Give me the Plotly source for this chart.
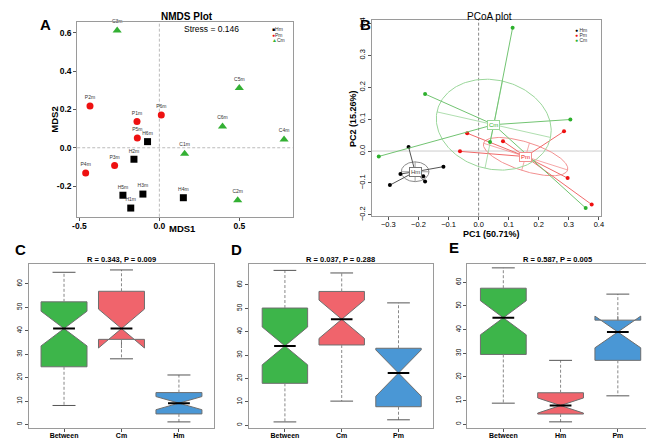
import numpy as np
import plotly.graph_objects as go

FONT = "Liberation Sans, Arial, sans-serif"
W, H = 654, 441

# ---------------- Panel A: NMDS data ----------------
nmds_H_lab = ["H6m", "H2m", "H5m", "H3m", "H4m", "H1m"]
nmds_H_x = [-0.074, -0.159, -0.228, -0.103, 0.150, -0.179]
nmds_H_y = [0.032, -0.060, -0.248, -0.242, -0.261, -0.315]
nmds_P_lab = ["P2m", "P1m", "P6m", "P5m", "P3m", "P4m"]
nmds_P_x = [-0.434, -0.140, 0.012, -0.138, -0.280, -0.461]
nmds_P_y = [0.218, 0.137, 0.171, 0.051, -0.093, -0.132]
nmds_C_lab = ["C3m", "C5m", "C6m", "C4m", "C1m", "C2m"]
nmds_C_x = [-0.264, 0.500, 0.395, 0.780, 0.158, 0.490]
nmds_C_y = [0.613, 0.312, 0.111, 0.043, -0.031, -0.274]
stress_text = "Stress = 0.146"

# ---------------- Panel B: PCoA data ----------------
pcoa_H_x = [-0.233, -0.117, -0.260, -0.184, -0.178, -0.295]
pcoa_H_y = [0.013, -0.049, -0.072, -0.079, -0.096, -0.107]
pcoa_P_x = [-0.038, -0.062, 0.081, 0.284, 0.296, 0.376]
pcoa_P_y = [0.056, -0.001, 0.031, 0.062, -0.085, -0.168]
pcoa_C_x = [0.113, -0.178, 0.305, 0.038, -0.332, 0.356]
pcoa_C_y = [0.387, 0.179, 0.099, 0.028, -0.017, -0.179]
# ellipse semi-axes and rotation (degrees) per group: Hm, Pm, Cm
ell_a = [0.046, 0.146, 0.193]
ell_b = [0.031, 0.045, 0.140]
ell_angle = [0.0, -16.7, -12.0]
pc1_label = "PC1 (50.71%)"
pc2_label = "PC2 (15.26%)"

# ---------------- Panels C, D, E: ANOSIM boxplots ----------------
C_cats = ["Between", "Cm", "Hm"]
C_low = [8.1, 28.0, 1.1]
C_q1 = [24.6, 36.3, 4.5]
C_med = [40.9, 40.9, 9.1]
C_q3 = [52.3, 56.8, 13.6]
C_high = [64.9, 65.9, 21.1]
C_notch = [7.4, 8.3, 2.8]
C_title = "R = 0.343, P = 0.009"

D_cats = ["Between", "Cm", "Pm"]
D_low = [1.4, 10.3, 2.3]
D_q1 = [17.9, 34.3, 7.9]
D_med = [33.9, 45.3, 22.3]
D_q3 = [50.1, 57.2, 32.9]
D_high = [66.2, 65.1, 52.3]
D_notch = [8.1, 8.2, 9.9]
D_title = "R = 0.037, P = 0.288"

E_cats = ["Between", "Hm", "Pm"]
E_low = [8.9, 1.0, 12.0]
E_q1 = [29.5, 4.3, 27.0]
E_med = [45.0, 7.9, 39.0]
E_q3 = [57.5, 13.3, 44.0]
E_high = [66.1, 27.0, 55.0]
E_notch = [7.2, 3.2, 6.7]
E_title = "R = 0.587, P = 0.005"

COL_GREEN_BOX = "#3DB54A"
COL_RED_BOX = "#F0646C"
COL_BLUE_BOX = "#4A97D5"
C_fill = [COL_GREEN_BOX, COL_RED_BOX, COL_BLUE_BOX]
D_fill = [COL_GREEN_BOX, COL_RED_BOX, COL_BLUE_BOX]
E_fill = [COL_GREEN_BOX, COL_RED_BOX, COL_BLUE_BOX]


def px_x(p):
    return p / W


def px_y(p):
    return 1 - p / H


fig = go.Figure()

# ---------- Panel A ----------
for labs, xs, ys, sym, col, sz in [
    (nmds_H_lab, nmds_H_x, nmds_H_y, "square", "black", 7),
    (nmds_P_lab, nmds_P_x, nmds_P_y, "circle", "#EE1111", 7),
    (nmds_C_lab, nmds_C_x, nmds_C_y, "triangle-up", "#33B033", 8),
]:
    fig.add_trace(go.Scatter(
        x=xs, y=ys, mode="markers+text", text=labs, textposition="top center",
        textfont=dict(size=5, color="#333333", family=FONT),
        marker=dict(symbol=sym, color=col, size=sz, line=dict(width=0)),
        xaxis="x", yaxis="y", showlegend=False, cliponaxis=False))

# ---------- Panel B ----------
groups = [
    ("Hm", pcoa_H_x, pcoa_H_y, "black", "#555555", "#8A8A8A"),
    ("Pm", pcoa_P_x, pcoa_P_y, "#EE1111", "#F06A6A", "#F29090"),
    ("Cm", pcoa_C_x, pcoa_C_y, "#2DB02D", "#72C472", "#9AD69A"),
]
centroids = []
for gi, (name, xs, ys, pcol, scol, ecol) in enumerate(groups):
    cx, cy = float(np.mean(xs)), float(np.mean(ys))
    centroids.append((cx, cy))
    th = np.deg2rad(ell_angle[gi])
    a, b = ell_a[gi], ell_b[gi]
    t = np.linspace(0, 2 * np.pi, 200)
    ex = cx + a * np.cos(t) * np.cos(th) - b * np.sin(t) * np.sin(th)
    ey = cy + a * np.cos(t) * np.sin(th) + b * np.sin(t) * np.cos(th)
    fig.add_trace(go.Scatter(x=ex, y=ey, mode="lines", line=dict(color=ecol, width=1),
                             xaxis="x2", yaxis="y2", showlegend=False, hoverinfo="skip"))
    u = (np.cos(th), np.sin(th))
    v = (-np.sin(th), np.cos(th))
    axx = [cx - a * u[0], cx + a * u[0], None, cx - b * v[0], cx + b * v[0]]
    axy = [cy - a * u[1], cy + a * u[1], None, cy - b * v[1], cy + b * v[1]]
    fig.add_trace(go.Scatter(x=axx, y=axy, mode="lines", line=dict(color=ecol, width=0.8),
                             xaxis="x2", yaxis="y2", showlegend=False, hoverinfo="skip"))
    sx, sy = [], []
    for px_, py_ in zip(xs, ys):
        sx += [cx, px_, None]
        sy += [cy, py_, None]
    fig.add_trace(go.Scatter(x=sx, y=sy, mode="lines", line=dict(color=scol, width=1),
                             xaxis="x2", yaxis="y2", showlegend=False, hoverinfo="skip"))
    fig.add_trace(go.Scatter(x=xs, y=ys, mode="markers", marker=dict(color=pcol, size=4),
                             xaxis="x2", yaxis="y2", showlegend=False))

annotations = []
for (name, xs, ys, pcol, scol, ecol), (cx, cy) in zip(groups, centroids):
    annotations.append(dict(
        x=cx, y=cy, xref="x2", yref="y2", text=name, showarrow=False,
        font=dict(size=6, color=pcol if name != "Hm" else "#444444", family=FONT),
        bgcolor="white", bordercolor=ecol if name != "Hm" else "#777777",
        borderwidth=1, borderpad=1))


# ---------- Box panels ----------
def add_box_panel(xa, ya, cats, low, q1, med, q3, high, notch, fills):
    n = len(cats)
    pos = list(range(1, n + 1))
    for i in range(n):
        p = pos[i]
        fig.add_trace(go.Scatter(
            x=[p, p, None, p, p], y=[q3[i], high[i], None, q1[i], low[i]],
            mode="lines", line=dict(color="#888888", width=1, dash="3px,2px"),
            xaxis=xa, yaxis=ya, showlegend=False, hoverinfo="skip"))
        fig.add_trace(go.Scatter(
            x=[p - 0.2, p + 0.2, None, p - 0.2, p + 0.2],
            y=[high[i], high[i], None, low[i], low[i]],
            mode="lines", line=dict(color="#555555", width=1),
            xaxis=xa, yaxis=ya, showlegend=False, hoverinfo="skip"))
        fig.add_trace(go.Box(
            x=[p], q1=[q1[i]], median=[med[i]], q3=[q3[i]],
            lowerfence=[q1[i]], upperfence=[q3[i]], notchspan=[notch[i]],
            notched=True, notchwidth=0.5, width=0.8, whiskerwidth=0,
            fillcolor=fills[i], line=dict(color="#6E6E6E", width=1),
            boxpoints=False, xaxis=xa, yaxis=ya, showlegend=False, hoverinfo="skip"))
        fig.add_trace(go.Scatter(
            x=[p - 0.19, p + 0.19], y=[med[i], med[i]], mode="lines",
            line=dict(color="black", width=2),
            xaxis=xa, yaxis=ya, showlegend=False, hoverinfo="skip"))


add_box_panel("x3", "y3", C_cats, C_low, C_q1, C_med, C_q3, C_high, C_notch, C_fill)
add_box_panel("x4", "y4", D_cats, D_low, D_q1, D_med, D_q3, D_high, D_notch, D_fill)
add_box_panel("x5", "y5", E_cats, E_low, E_q1, E_med, E_q3, E_high, E_notch, E_fill)

# ---------- Layout ----------
frame = dict(showline=True, mirror=True, linecolor="#9A9A9A", linewidth=1,
             showgrid=False, zeroline=False, ticks="outside", ticklen=3,
             tickcolor="#555555", tickwidth=1)

layout = dict(
    width=W, height=H, margin=dict(l=0, r=0, t=0, b=0),
    paper_bgcolor="white", plot_bgcolor="white",
    font=dict(family=FONT, color="black"),
    showlegend=False,
)

# A
layout["xaxis"] = dict(frame, domain=[px_x(65), px_x(283)], range=[-0.514, 0.833], anchor="y",
                       tickvals=[-0.5, 0.0, 0.5],
                       ticktext=["<b>-0.5</b>", "<b>0.0</b>", "<b>0.5</b>"],
                       tickfont=dict(size=8.5, family=FONT), ticklabelstandoff=-2)
layout["yaxis"] = dict(frame, domain=[px_y(210), px_y(12)], range=[-0.36, 0.658], anchor="x",
                       tickvals=[-0.2, 0.0, 0.2, 0.4, 0.6],
                       ticktext=["<b>-0.2</b>", "<b>0.0</b>", "<b>0.2</b>", "<b>0.4</b>", "<b>0.6</b>"],
                       tickfont=dict(size=8.5, family=FONT))
# B
layout["xaxis2"] = dict(frame, domain=[px_x(363.3), px_x(595.3)], range=[-0.355, 0.407], anchor="y2",
                        tickvals=[-0.3, -0.2, -0.1, 0.0, 0.1, 0.2, 0.3, 0.4], tickformat=".1f",
                        tickfont=dict(size=7.5, family=FONT), ticklabelstandoff=-2)
layout["yaxis2"] = dict(frame, domain=[px_y(209), px_y(10)], range=[-0.203, 0.412], anchor="x2",
                        tickvals=[-0.2, -0.1, 0.0, 0.1, 0.2, 0.3, 0.4], tickformat=".1f",
                        tickangle=-90, tickfont=dict(size=7.5, family=FONT))
# C, D, E
box_y_ticks = [0, 10, 20, 30, 40, 50, 60]
for k, (xd, yr, xr, cats) in zip(
        [3, 4, 5],
        [((16, 203.3), (-1.4, 68.6), (0.387, 3.607), C_cats),
         ((239, 425.7), (-1.1, 69.1), (0.369, 3.616), D_cats),
         ((460, 641.3), (-1.5, 67.9), (0.372, 3.5), E_cats)]):
    layout[f"xaxis{k}"] = dict(frame, domain=[px_x(xd[0]), px_x(xd[1])], range=list(xr),
                               anchor=f"y{k}", tickvals=[1, 2, 3],
                               ticktext=[f"<b>{c}</b>" for c in cats],
                               tickfont=dict(size=7, family=FONT), ticklabelstandoff=-2)
    layout[f"yaxis{k}"] = dict(frame, domain=[px_y(424.5), px_y(257.7)], range=list(yr),
                               anchor=f"x{k}", tickvals=box_y_ticks, tickangle=-90,
                               tickfont=dict(size=6.5, family=FONT))

fig.update_layout(**layout)

shapes = [
    dict(type="line", xref="x", yref="y domain", x0=0, x1=0, y0=0, y1=1,
         line=dict(color="#BBBBBB", width=1, dash="3px,2px"), layer="below"),
    dict(type="line", xref="x domain", yref="y", x0=0, x1=1, y0=0, y1=0,
         line=dict(color="#BBBBBB", width=1, dash="3px,2px"), layer="below"),
    dict(type="line", xref="x2", yref="y2 domain", x0=0, x1=0, y0=0, y1=1,
         line=dict(color="#888888", width=1, dash="3px,2px"), layer="below"),
    dict(type="line", xref="x2 domain", yref="y2", x0=0, x1=1, y0=0, y1=0,
         line=dict(color="#CCCCCC", width=1), layer="below"),
]


def ann(xp, yp, text, size, bold=False, angle=0, color="black", xanchor="center"):
    return dict(x=px_x(xp), y=px_y(yp), xref="paper", yref="paper",
                text=f"<b>{text}</b>" if bold else text, showarrow=False,
                font=dict(size=size, color=color, family=FONT), textangle=angle,
                xanchor=xanchor, yanchor="middle")


annotations += [
    ann(33, 15, "A", 15, True),
    ann(357, 15, "B", 15, True),
    ann(8, 243, "C", 15, True),
    ann(226, 243, "D", 15, True),
    ann(446, 241, "E", 15, True),
    ann(176, 7, "NMDS Plot", 10, True),
    ann(201, 19.5, stress_text, 8.5),
    ann(172, 222, "MDS1", 9.5, True),
    ann(42, 111, "MDS2", 9.5, True, angle=-90),
    ann(482, 7, "PCoA plot", 10),
    ann(484, 228, pc1_label, 9, True),
    ann(344, 110, pc2_label, 9, True, angle=-90),
    ann(110, 254, C_title, 7.5, True),
    ann(332, 254, D_title, 7.5, True),
    ann(551, 254, E_title, 7.5, True),
]

# legends (A)
for i, (sym, col, lab) in enumerate([("■", "black", "Hm"), ("●", "#EE1111", "Pm"), ("▲", "#33B033", "Cm")]):
    annotations.append(dict(
        x=px_x(260), y=px_y(19.5 + 5.4 * i), xref="paper", yref="paper", showarrow=False,
        text=f"<span style='color:{col}'>{sym}</span><span style='color:#333333'>{lab}</span>",
        font=dict(size=5, family=FONT, color="#333333"), xanchor="left", yanchor="middle"))
# legends (B)
for i, (col, lab) in enumerate([("black", "Hm"), ("#EE1111", "Pm"), ("#2DB02D", "Cm")]):
    annotations.append(dict(
        x=px_x(567), y=px_y(20 + 5.4 * i), xref="paper", yref="paper", showarrow=False,
        text=f"<span style='color:{col}'>●</span> <span style='color:#333333'>{lab}</span>",
        font=dict(size=5, family=FONT, color="#333333"), xanchor="left", yanchor="middle"))

fig.update_layout(annotations=annotations, shapes=shapes)
fig.write_html("out.html")
